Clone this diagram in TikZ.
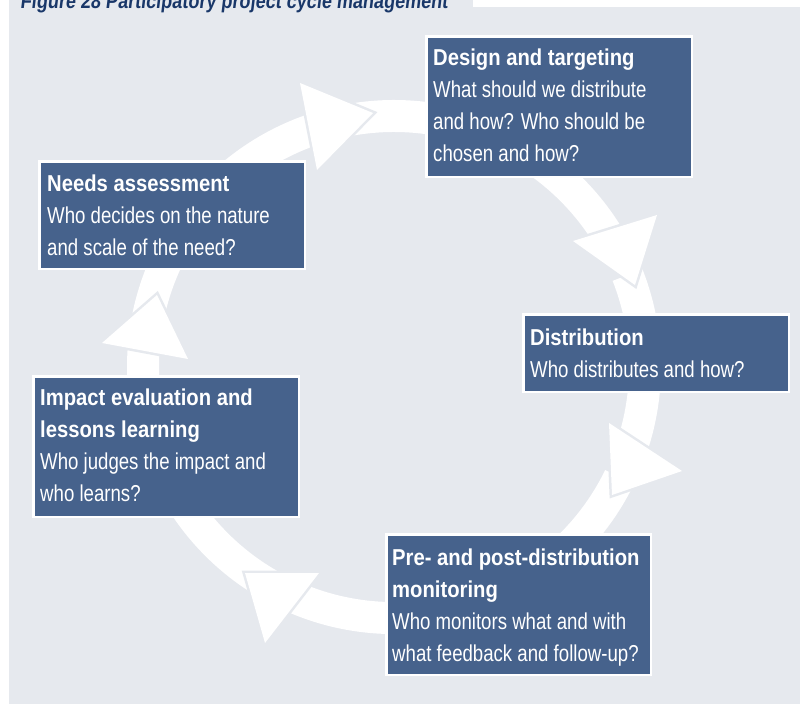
\documentclass[tikz,border=0pt]{standalone}
\usepackage{fontspec}
\setmainfont{Liberation Sans}
\newfontfamily\regfont{Liberation Sans}[FakeStretch=0.81]
\newfontfamily\bldfont{Liberation Sans}[FakeStretch=0.88]
\newfontfamily\ttlfont{Liberation Sans}[FakeStretch=0.86,FakeSlant=0.12]
\definecolor{bggray}{RGB}{230,233,238}
\definecolor{boxblue}{RGB}{70,98,140}
\definecolor{titleblue}{RGB}{25,55,105}
\newcommand\boxhead[1]{{\bldfont\bfseries #1}}
\newcommand\boxtext[1]{\parbox[t]{280pt}{\raggedright\regfont\fontsize{23}{32}\selectfont #1}}
\begin{document}
\begin{tikzpicture}[x=1pt,y=-1pt,
  band/.style={fill=white},
  head/.style={fill=white,preaction={draw=bggray,line width=5pt,line join=miter}},
  box/.style={rectangle,fill=boxblue,draw=white,line width=2.5pt,inner sep=0pt,outer sep=0pt,anchor=north west},
  txt/.style={anchor=base west,inner sep=0pt,text=white}]
\useasboundingbox (0,0) rectangle (800,704);
\clip (0,0) rectangle (800,704);
\fill[bggray] (9,0) rectangle (800,704);
\fill[white] (473,0) rectangle (800,7);
\node[anchor=base west,inner sep=0pt,text=titleblue,font=\ttlfont\bfseries\fontsize{21}{25}\selectfont] (title) at (20,9) {Figure 28 Participatory project cycle management};
% ring segments
\begin{scope}[shift={(394,367)}]
\path[band] (-171:267) arc[start angle=-171,end angle=-106,radius=267] -- (-106:235) arc[start angle=-106,end angle=-171,radius=235] -- cycle;
\path[band] (-102:267) arc[start angle=-102,end angle=-29,radius=267] -- (-29:235) arc[start angle=-29,end angle=-102,radius=235] -- cycle;
\path[band] (-21.5:267) arc[start angle=-21.5,end angle=19,radius=267] -- (19:235) arc[start angle=19,end angle=-21.5,radius=235] -- cycle;
\path[band] (26:267) arc[start angle=26,end angle=115,radius=267] -- (115:235) arc[start angle=115,end angle=26,radius=235] -- cycle;
\path[band] (119:267) arc[start angle=119,end angle=185,radius=267] -- (185:235) arc[start angle=185,end angle=119,radius=235] -- cycle;
\end{scope}
% arrow heads
\path[head] (300,83) -- (373,113) -- (317,170) -- cycle;
\path[head] (573,241) -- (657,215) -- (635,285) -- cycle;
\path[head] (609,423) -- (682,471) -- (612,495) -- cycle;
\path[head] (245,573) -- (319,573) -- (265,643) -- cycle;
\path[head] (102,343) -- (157,295) -- (188,359) -- cycle;
% boxes
\node[box,minimum width=265.5pt,minimum height=140.5pt] (b1) at (426.25,36.25) {};
\node[box,minimum width=265.5pt,minimum height=107.5pt] (b2) at (39.25,161.25) {};
\node[box,minimum width=265.5pt,minimum height=77.5pt] (b3) at (523.25,314.25) {};
\node[box,minimum width=265.5pt,minimum height=140.5pt] (b4) at (33.25,376.25) {};
\node[box,minimum width=264.5pt,minimum height=140.5pt] (b5) at (386.25,534.25) {};
% texts
\node[txt] (t1) at (433,65) {\boxtext{\boxhead{Design and targeting}\\What should we distribute\\and how? Who should be\\chosen and how?}};
\node[txt] (t2) at (47,191) {\boxtext{\boxhead{Needs assessment}\\Who decides on the nature\\and scale of the need?}};
\node[txt] (t3) at (530,345) {\boxtext{\boxhead{Distribution}\\Who distributes and how?}};
\node[txt] (t4) at (40,405) {\boxtext{\boxhead{Impact evaluation and}\\\boxhead{lessons learning}\\Who judges the impact and\\who learns?}};
\node[txt] (t5) at (392,565) {\boxtext{\boxhead{Pre- and post-distribution}\\\boxhead{monitoring}\\Who monitors what and with\\what feedback and follow-up?}};
\end{tikzpicture}
\end{document}
